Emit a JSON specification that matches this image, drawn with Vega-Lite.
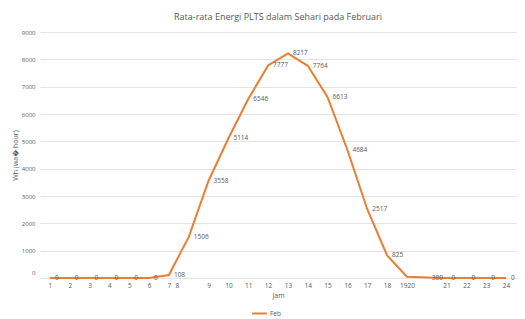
{
  "$schema": "https://vega.github.io/schema/vega-lite/v6.json",
  "width": 476,
  "height": 246,
  "autosize": {"type": "none"},
  "padding": {"left": 40, "top": 32, "right": 9, "bottom": 41},
  "background": "white",
  "title": {
    "text": "Rata-rata Energi PLTS dalam Sehari pada Februari",
    "fontSize": 9,
    "font": "Open Sans",
    "fontWeight": "normal",
    "color": "#595959",
    "anchor": "middle",
    "offset": 7
  },
  "data": {
    "values": [
      {"jam": 1, "wh": 0, "label": "0", "series": "Feb"},
      {"jam": 2, "wh": 0, "label": "0", "series": "Feb"},
      {"jam": 3, "wh": 0, "label": "0", "series": "Feb"},
      {"jam": 4, "wh": 0, "label": "0", "series": "Feb"},
      {"jam": 5, "wh": 0, "label": "0", "series": "Feb"},
      {"jam": 6, "wh": 0, "label": "0", "series": "Feb"},
      {"jam": 7, "wh": 108, "label": "108", "series": "Feb"},
      {"jam": 8, "wh": 1506, "label": "1506", "series": "Feb"},
      {"jam": 9, "wh": 3558, "label": "3558", "series": "Feb"},
      {"jam": 10, "wh": 5114, "label": "5114", "series": "Feb"},
      {"jam": 11, "wh": 6546, "label": "6546", "series": "Feb"},
      {"jam": 12, "wh": 7777, "label": "7777", "series": "Feb"},
      {"jam": 13, "wh": 8217, "label": "8217", "series": "Feb"},
      {"jam": 14, "wh": 7764, "label": "7764", "series": "Feb"},
      {"jam": 15, "wh": 6613, "label": "6613", "series": "Feb"},
      {"jam": 16, "wh": 4684, "label": "4684", "series": "Feb"},
      {"jam": 17, "wh": 2517, "label": "2517", "series": "Feb"},
      {"jam": 18, "wh": 825, "label": "825", "series": "Feb"},
      {"jam": 19, "wh": 45, "label": "", "series": "Feb"},
      {"jam": 20, "wh": 15, "label": "380", "series": "Feb"},
      {"jam": 21, "wh": 0, "label": "0", "series": "Feb"},
      {"jam": 22, "wh": 0, "label": "0", "series": "Feb"},
      {"jam": 23, "wh": 0, "label": "0", "series": "Feb"},
      {"jam": 24, "wh": 0, "label": "0", "series": "Feb"}
    ]
  },
  "encoding": {
    "x": {
      "field": "jam",
      "type": "quantitative",
      "scale": {"domain": [0.5, 24.5], "nice": false, "zero": false},
      "axis": {
        "title": "Jam",
        "values": [1, 2, 3, 4, 5, 6, 7, 7.4, 9, 10, 11, 12, 13, 14, 15, 16, 17, 18, 19, 21, 22, 23, 24],
        "labelExpr": "datum.value == 7.4 ? '8' : (datum.value == 19 ? '1920' : datum.label)",
        "grid": false,
        "domain": false,
        "ticks": false,
        "labelPadding": 4,
        "labelFontSize": 6.5,
        "labelColor": "#595959",
        "labelFont": "Open Sans",
        "titleFont": "Open Sans",
        "titleFontSize": 7,
        "titleFontWeight": "normal",
        "titleColor": "#595959",
        "titlePadding": 3
      }
    },
    "y": {
      "field": "wh",
      "type": "quantitative",
      "scale": {"domain": [0, 9000], "nice": false},
      "axis": {
        "title": "Wh (wa\uFFFD hour)",
        "values": [0, 1000, 2000, 3000, 4000, 5000, 6000, 7000, 8000, 9000],
        "format": "d",
        "grid": true,
        "gridColor": "#E3E3E3",
        "gridWidth": 1,
        "domain": false,
        "ticks": false,
        "labelPadding": 5,
        "labelFontSize": 6,
        "labelColor": "#595959",
        "labelFont": "Open Sans",
        "labelOffset": {"condition": {"test": "datum.value === 0", "value": -6}, "value": 0},
        "titleFont": "Open Sans",
        "titleFontSize": 7,
        "titleFontWeight": "normal",
        "titleColor": "#595959",
        "titlePadding": 3
      }
    }
  },
  "layer": [
    {
      "mark": {"type": "line", "strokeWidth": 2, "strokeJoin": "miter"},
      "encoding": {
        "color": {
          "field": "series",
          "type": "nominal",
          "scale": {"range": ["#ED7D31"]},
          "legend": {
            "title": null,
            "orient": "none",
            "legendX": 211,
            "legendY": 273,
            "symbolType": "stroke",
            "symbolStrokeWidth": 2,
            "symbolSize": 220,
            "labelFontSize": 6.5,
            "labelColor": "#595959",
            "labelFont": "Open Sans",
            "labelOffset": 2
          }
        }
      }
    },
    {
      "mark": {
        "type": "text",
        "align": "left",
        "baseline": "middle",
        "dx": 5,
        "fontSize": 6.5,
        "font": "Open Sans",
        "color": "#595959"
      },
      "encoding": {"text": {"field": "label"}}
    }
  ],
  "config": {"view": {"stroke": null}}
}
